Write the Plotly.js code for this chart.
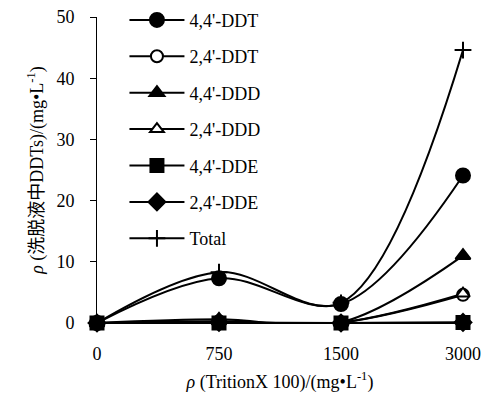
<!DOCTYPE html>
<html><head><meta charset="utf-8">
<script src="https://cdn.plot.ly/plotly-3.0.1.min.js"></script>
<style>body{margin:0;padding:0;background:#fff}#chart{width:490px;height:403px}</style>
</head><body><div id="chart"></div>
<script>
const categories = ["0", "750", "1500", "3000"];
const seriesNames = ["4,4'-DDT", "2,4'-DDT", "4,4'-DDD", "2,4'-DDD", "4,4'-DDE", "2,4'-DDE", "Total"];
const ddt44 = [0, 7.3, 3.1, 24.1];
const ddt24 = [0, 0.3, 0.1, 4.6];
const ddd44 = [0, 0.6, 0.1, 11.0];
const ddd24 = [0, 0.2, 0.1, 4.8];
const dde44 = [0, 0.0, 0.0, 0.1];
const dde24 = [0, 0.1, 0.0, 0.1];
const total = [0, 8.3, 3.3, 44.6];
const yTicks = [0, 10, 20, 30, 40, 50];

const seriesValues = [ddt44, ddt24, ddd44, ddd24, dde44, dde24, total];
const symbols = ["circle", "circle", "triangle-up", "triangle-up", "square", "diamond", "cross-thin"];
const fills = ["#000", "#fff", "#000", "#fff", "#000", "#000", "#000"];
const sizes = [14, 12, 13, 12, 13, 13, 12];

const font = "Liberation Serif, 'Times New Roman', 'Noto Sans CJK SC', serif";
const traces = seriesValues.map((vals, i) => ({
  x: categories, y: vals, name: seriesNames[i], type: 'scatter', mode: 'lines+markers',
  legendgroup: 'g' + i,
  cliponaxis: false,
  line: {color: '#000', width: 2, shape: 'spline', smoothing: 1},
  marker: {symbol: symbols[i], size: sizes[i], color: fills[i],
           line: {color: '#000', width: 2}}
}));

const layout = {
  width: 490, height: 403,
  margin: {l: 97, r: 27, t: 17, b: 80, autoexpand: false},
  paper_bgcolor: '#fff', plot_bgcolor: '#fff',
  font: {family: font, size: 18, color: '#000'},
  showlegend: true,
  legend: {x: 0.075, y: 1.05, xanchor: 'left', yanchor: 'top', bgcolor: 'rgba(0,0,0,0)',
           font: {family: font, size: 18}, tracegroupgap: 10, itemwidth: 55, maxheight: 1},
  xaxis: {type: 'category', range: [0, 3], showgrid: false, zeroline: false,
          showline: true, linecolor: '#000', linewidth: 1, ticks: '', ticklabelstandoff: 14,
          tickfont: {family: font, size: 18},
          title: {text: "<i>ρ</i> (TritionX 100)/(mg•L<sup>-1</sup>)", font: {family: font, size: 18}, standoff: 12}},
  yaxis: {range: [0, 50], tickvals: yTicks, showgrid: false, zeroline: false,
          showline: true, linecolor: '#000', linewidth: 1, ticks: 'outside', ticklen: 6, tickcolor: '#000',
          ticklabelstandoff: 12,
          tickfont: {family: font, size: 18},
          title: {text: "<i>ρ</i> (洗脱液中DDTs)/(mg•L<sup>-1</sup>)", font: {family: font, size: 18}, standoff: 8}}
};
Plotly.newPlot('chart', traces, layout, {displayModeBar: false, staticPlot: true});
</script></body></html>
